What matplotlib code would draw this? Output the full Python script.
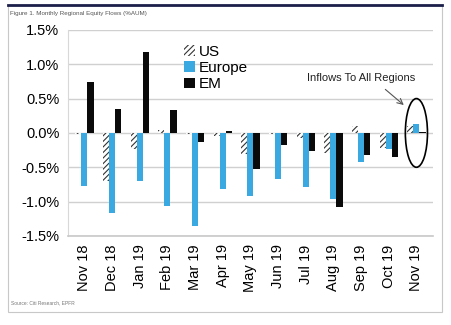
import matplotlib
matplotlib.use("Agg")
import matplotlib.pyplot as plt
from matplotlib.patches import Ellipse, Rectangle
from matplotlib.lines import Line2D
import numpy as np

plt.rcParams['font.family'] = ['Liberation Sans', 'DejaVu Sans']
plt.rcParams['hatch.linewidth'] = 0.8

months = ['Nov 18', 'Dec 18', 'Jan 19', 'Feb 19', 'Mar 19', 'Apr 19', 'May 19',
          'Jun 19', 'Jul 19', 'Aug 19', 'Sep 19', 'Oct 19', 'Nov 19']
us = [-0.01, -0.70, -0.24, 0.04, -0.02, -0.04, -0.31, -0.02, -0.07, -0.29, 0.10, -0.22, 0.10]
europe = [-0.77, -1.17, -0.70, -1.07, -1.36, -0.82, -0.92, -0.67, -0.79, -0.96, -0.43, -0.24, 0.13]
em = [0.74, 0.35, 1.18, 0.33, -0.13, 0.03, -0.53, -0.17, -0.27, -1.08, -0.32, -0.35, 0.02]
yticks = [-1.5, -1.0, -0.5, 0.0, 0.5, 1.0, 1.5]

fig = plt.figure(figsize=(4.52, 3.25), dpi=100)
ax = fig.add_axes([0.150, 0.274, 0.808, 0.634])

x = np.arange(len(months))
w = 0.22
ax.bar(x - w, us, w, color='white', edgecolor='#333333', hatch='//////', linewidth=0, label='US', zorder=3)
ax.bar(x, europe, w, color='#3aa9e2', label='Europe', zorder=3)
ax.bar(x + w, em, w, color='#0a0a0a', label='EM', zorder=3)

ax.set_ylim(-1.5, 1.5)
ax.set_xlim(-0.6, len(months) - 0.4)
ax.set_yticks(yticks)
ax.set_yticklabels(['%.1f%%' % v for v in yticks], fontsize=10.5)
ax.set_xticks(x)
ax.set_xticklabels(months, rotation=90, fontsize=10.5)
ax.tick_params(length=0, pad=6)
ax.yaxis.grid(True, color='#d0d0d0', linewidth=1, zorder=0)
for s in ['top', 'right']:
    ax.spines[s].set_visible(False)
ax.spines['left'].set_color('#d8d8d8')
ax.spines['bottom'].set_color('#c8c8c8')
ax.spines['bottom'].set_linewidth(1.2)

leg = ax.legend(loc='upper left', bbox_to_anchor=(0.28, 0.995), frameon=False, fontsize=11,
                handlelength=0.7, handleheight=0.7, handletextpad=0.3, labelspacing=0.15)

# callout on the last month
ax.add_patch(Ellipse((12, 0.0), 0.8, 1.0, fill=False, edgecolor='black', linewidth=1.2, zorder=4))
ax.text(10.0, 0.80, 'Inflows To All Regions', fontsize=8, ha='center', va='center', color='#222222')
ax.annotate('', xy=(11.62, 0.38), xytext=(10.8, 0.66),
            arrowprops=dict(arrowstyle='->', color='#555555', linewidth=0.8))

fig.add_artist(Rectangle((8 / 452, 1 - 312 / 325), 434 / 452, 307 / 325, transform=fig.transFigure,
                         fill=False, edgecolor='#c8c8c8', linewidth=0.8))
fig.add_artist(Line2D([8 / 452, 442 / 452], [1 - 5 / 325, 1 - 5 / 325], transform=fig.transFigure,
                      color='#1c1f4a', linewidth=2))
fig.text(10 / 452, 1 - 14 / 325, 'Figure 1. Monthly Regional Equity Flows (%AUM)', fontsize=4.5,
         color='#555555', va='center')
fig.text(11 / 452, 1 - 303 / 325, 'Source: Citi Research, EPFR', fontsize=3.5, color='#777777', va='center')

fig.savefig('out.png', dpi=100)
